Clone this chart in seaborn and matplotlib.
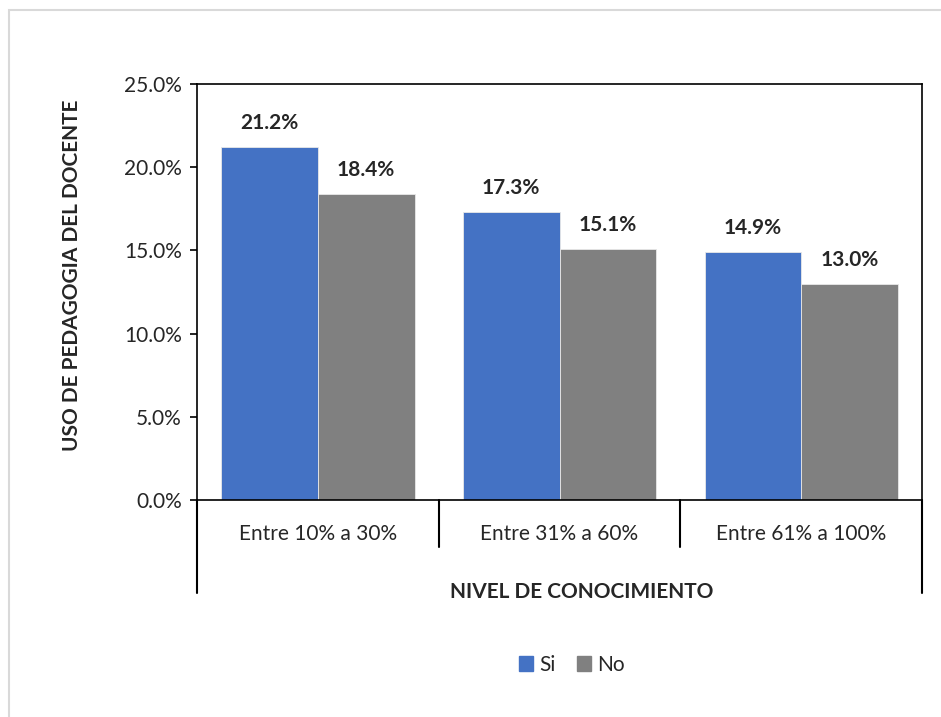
import matplotlib
matplotlib.use("Agg")
import matplotlib.pyplot as plt
import pandas as pd
import seaborn as sns
from matplotlib.patches import Rectangle, Patch
from matplotlib.ticker import PercentFormatter

categories = ["Entre 10% a 30%", "Entre 31% a 60%", "Entre 61% a 100%"]
series = ["Si", "No"]
si_values = [21.2, 17.3, 14.9]
no_values = [18.4, 15.1, 13.0]
y_ticks = [0, 5, 10, 15, 20, 25]
colors = ["#4472C4", "#808080"]

df = pd.DataFrame({
    "Nivel": categories * 2,
    "Respuesta": ["Si"] * 3 + ["No"] * 3,
    "Valor": si_values + no_values,
})

sns.set_style("white")
plt.rcParams["font.family"] = ["Lato", "DejaVu Sans"]

fig = plt.figure(figsize=(9.41, 7.17), dpi=100)
ax = fig.add_axes([197 / 941, 1 - 500 / 717, 725 / 941, 416 / 717])

sns.barplot(data=df, x="Nivel", y="Valor", hue="Respuesta", palette=colors,
            saturation=1, width=0.8, gap=0, errorbar=None, ax=ax, legend=False,
            edgecolor="#e8e8e8", linewidth=0.6)

ax.set_ylim(0, 25)
ax.set_xlim(-0.5, 2.5)
ax.set_yticks(y_ticks)
ax.yaxis.set_major_formatter(PercentFormatter(decimals=1))
ax.tick_params(axis="y", left=True, length=5, width=1.2, labelsize=15, pad=6, color="black")
ax.tick_params(axis="x", bottom=False, labelsize=15, pad=14)
for s in ax.spines.values():
    s.set_color("black")
    s.set_linewidth(1.2)

# category separators below the axis
trans = ax.get_xaxis_transform()
for x, depth in [(-0.5, 0.224), (0.5, 0.113), (1.5, 0.113), (2.5, 0.224)]:
    ax.plot([x, x], [0, -depth], transform=trans, color="black", lw=1.5, clip_on=False)

# data labels
for bars in ax.containers:
    ax.bar_label(bars, labels=[f"{b.get_height():.1f}%" for b in bars],
                 padding=10, fontsize=15, fontweight="bold")

ax.set_xlabel("")
ax.set_ylabel("")
fig.text(72 / 941, 1 - 275 / 717, "USO DE PEDAGOGIA DEL DOCENTE", rotation=90,
         ha="center", va="center", fontsize=15, fontweight="bold")
fig.text(582 / 941, 1 - 592 / 717, "NIVEL DE CONOCIMIENTO",
         ha="center", va="center", fontsize=15, fontweight="bold")

handles = [Patch(color=c, label=s) for c, s in zip(colors, series)]
fig.legend(handles=handles, loc="center", bbox_to_anchor=(572 / 941, 1 - 665 / 717),
           ncol=2, frameon=False, fontsize=15, handlelength=0.7, handleheight=0.7,
           handletextpad=0.3, columnspacing=1.0)

# outer chart border
fig.patches.append(Rectangle((9 / 941, -0.1), 1.2, 1 - 10 / 717 + 0.1,
                             transform=fig.transFigure, fill=False,
                             edgecolor="#d9d9d9", lw=1.5))

fig.savefig("out.png", dpi=100)
